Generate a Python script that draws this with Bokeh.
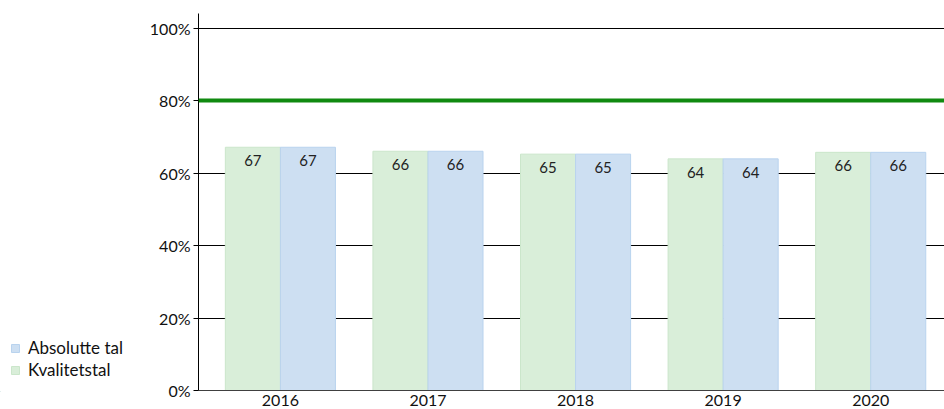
from bokeh.plotting import figure
from bokeh.layouts import row
from bokeh.models import (ColumnDataSource, Range1d, FixedTicker, Span, Legend, LegendItem,
                          LabelSet)
from bokeh.embed import file_html
from bokeh.resources import INLINE
from bokeh.core.properties import value
import numpy as np

years = ["2016", "2017", "2018", "2019", "2020"]
kvalitetstal = [67.1, 66.0, 65.2, 63.9, 65.7]
absolutte_tal = [67.1, 66.0, 65.2, 63.9, 65.7]
target = 80
y_ticks = [0, 20, 40, 60, 80, 100]
series_names = ["Absolutte tal", "Kvalitetstal"]

FONT = "Lato"
FS = "16px"
GREEN = "#d9eed9"
GREEN_L = "#cbe6cb"
BLUE = "#cddff2"
BLUE_L = "#b9d3ee"
bar_w = 0.373
xs = np.arange(len(years))

src_k = ColumnDataSource(dict(x=xs - bar_w / 2, top=kvalitetstal,
                              lbl=[str(int(round(v))) for v in kvalitetstal]))
src_a = ColumnDataSource(dict(x=xs + bar_w / 2, top=absolutte_tal,
                              lbl=[str(int(round(v))) for v in absolutte_tal]))

LEG_W = 140
p = figure(frame_width=746, frame_height=377, output_backend="svg", toolbar_location=None,
           x_range=Range1d(-0.555, 4.5), y_range=Range1d(0, 104),
           min_border_left=198 - LEG_W, min_border_right=0, min_border_top=13, min_border_bottom=0)
p.outline_line_color = None
p.background_fill_color = "white"
p.border_fill_color = "white"

p.xgrid.grid_line_color = None
p.ygrid.ticker = FixedTicker(ticks=y_ticks)
p.ygrid.grid_line_color = "#000000"
p.ygrid.grid_line_width = 1
p.ygrid.level = "underlay"

rk = p.vbar(x="x", top="top", width=bar_w, bottom=0, source=src_k,
            fill_color=GREEN, line_color=GREEN_L, line_width=1)
ra = p.vbar(x="x", top="top", width=bar_w, bottom=0, source=src_a,
            fill_color=BLUE, line_color=BLUE_L, line_width=1)

for src in (src_k, src_a):
    p.add_layout(LabelSet(x="x", y="top", text="lbl", source=src, y_offset=-8,
                          text_align="center", text_baseline="top",
                          text_font=value(FONT), text_font_size="15px", text_color="#222222"))

p.add_layout(Span(location=target, dimension="width", line_color="#108a10", line_width=4))

xa = p.xaxis[0]
xa.ticker = FixedTicker(ticks=list(xs))
xa.major_label_overrides = {int(i): y for i, y in zip(xs, years)}
xa.major_tick_out = 0
xa.major_tick_in = 0
xa.minor_tick_out = 0
xa.minor_tick_in = 0
xa.axis_line_color = "#404040"
xa.major_label_standoff = 4
xa.major_label_text_font = FONT
xa.major_label_text_font_size = FS
xa.major_label_text_color = "#111111"

ya = p.yaxis[0]
ya.ticker = FixedTicker(ticks=y_ticks)
ya.major_label_overrides = {t: f"{t}%" for t in y_ticks}
ya.major_tick_out = 5
ya.major_tick_in = 0
ya.minor_tick_out = 0
ya.minor_tick_in = 0
ya.axis_line_color = "#000000"
ya.major_tick_line_color = "#000000"
ya.major_label_standoff = 3
ya.major_label_text_font = FONT
ya.major_label_text_font_size = FS
ya.major_label_text_color = "#111111"

# legend panel (left of the chart)
lf = figure(width=LEG_W, height=409, output_backend="svg", toolbar_location=None,
            x_range=Range1d(0, 1), y_range=Range1d(0, 1),
            min_border=0)
lf.axis.visible = False
lf.grid.visible = False
lf.outline_line_color = None
la = lf.vbar(x=[-5], top=[-5], bottom=[-6], width=0.1, fill_color=BLUE, line_color=BLUE_L)
lk = lf.vbar(x=[-5], top=[-5], bottom=[-6], width=0.1, fill_color=GREEN, line_color=GREEN_L)
legend = Legend(items=[LegendItem(label=series_names[0], renderers=[la]),
                       LegendItem(label=series_names[1], renderers=[lk])],
                location=(10, 11), orientation="vertical")
legend.border_line_color = None
legend.background_fill_alpha = 0
legend.glyph_width = 10
legend.glyph_height = 10
legend.label_text_font = FONT
legend.label_text_font_size = "17px"
legend.label_text_color = "#111111"
legend.label_standoff = 8
legend.label_height = 20
legend.spacing = 1
legend.padding = 0
legend.margin = 0
lf.add_layout(legend)

layout = row(lf, p)
open("out.html", "w").write(file_html(layout, INLINE))
